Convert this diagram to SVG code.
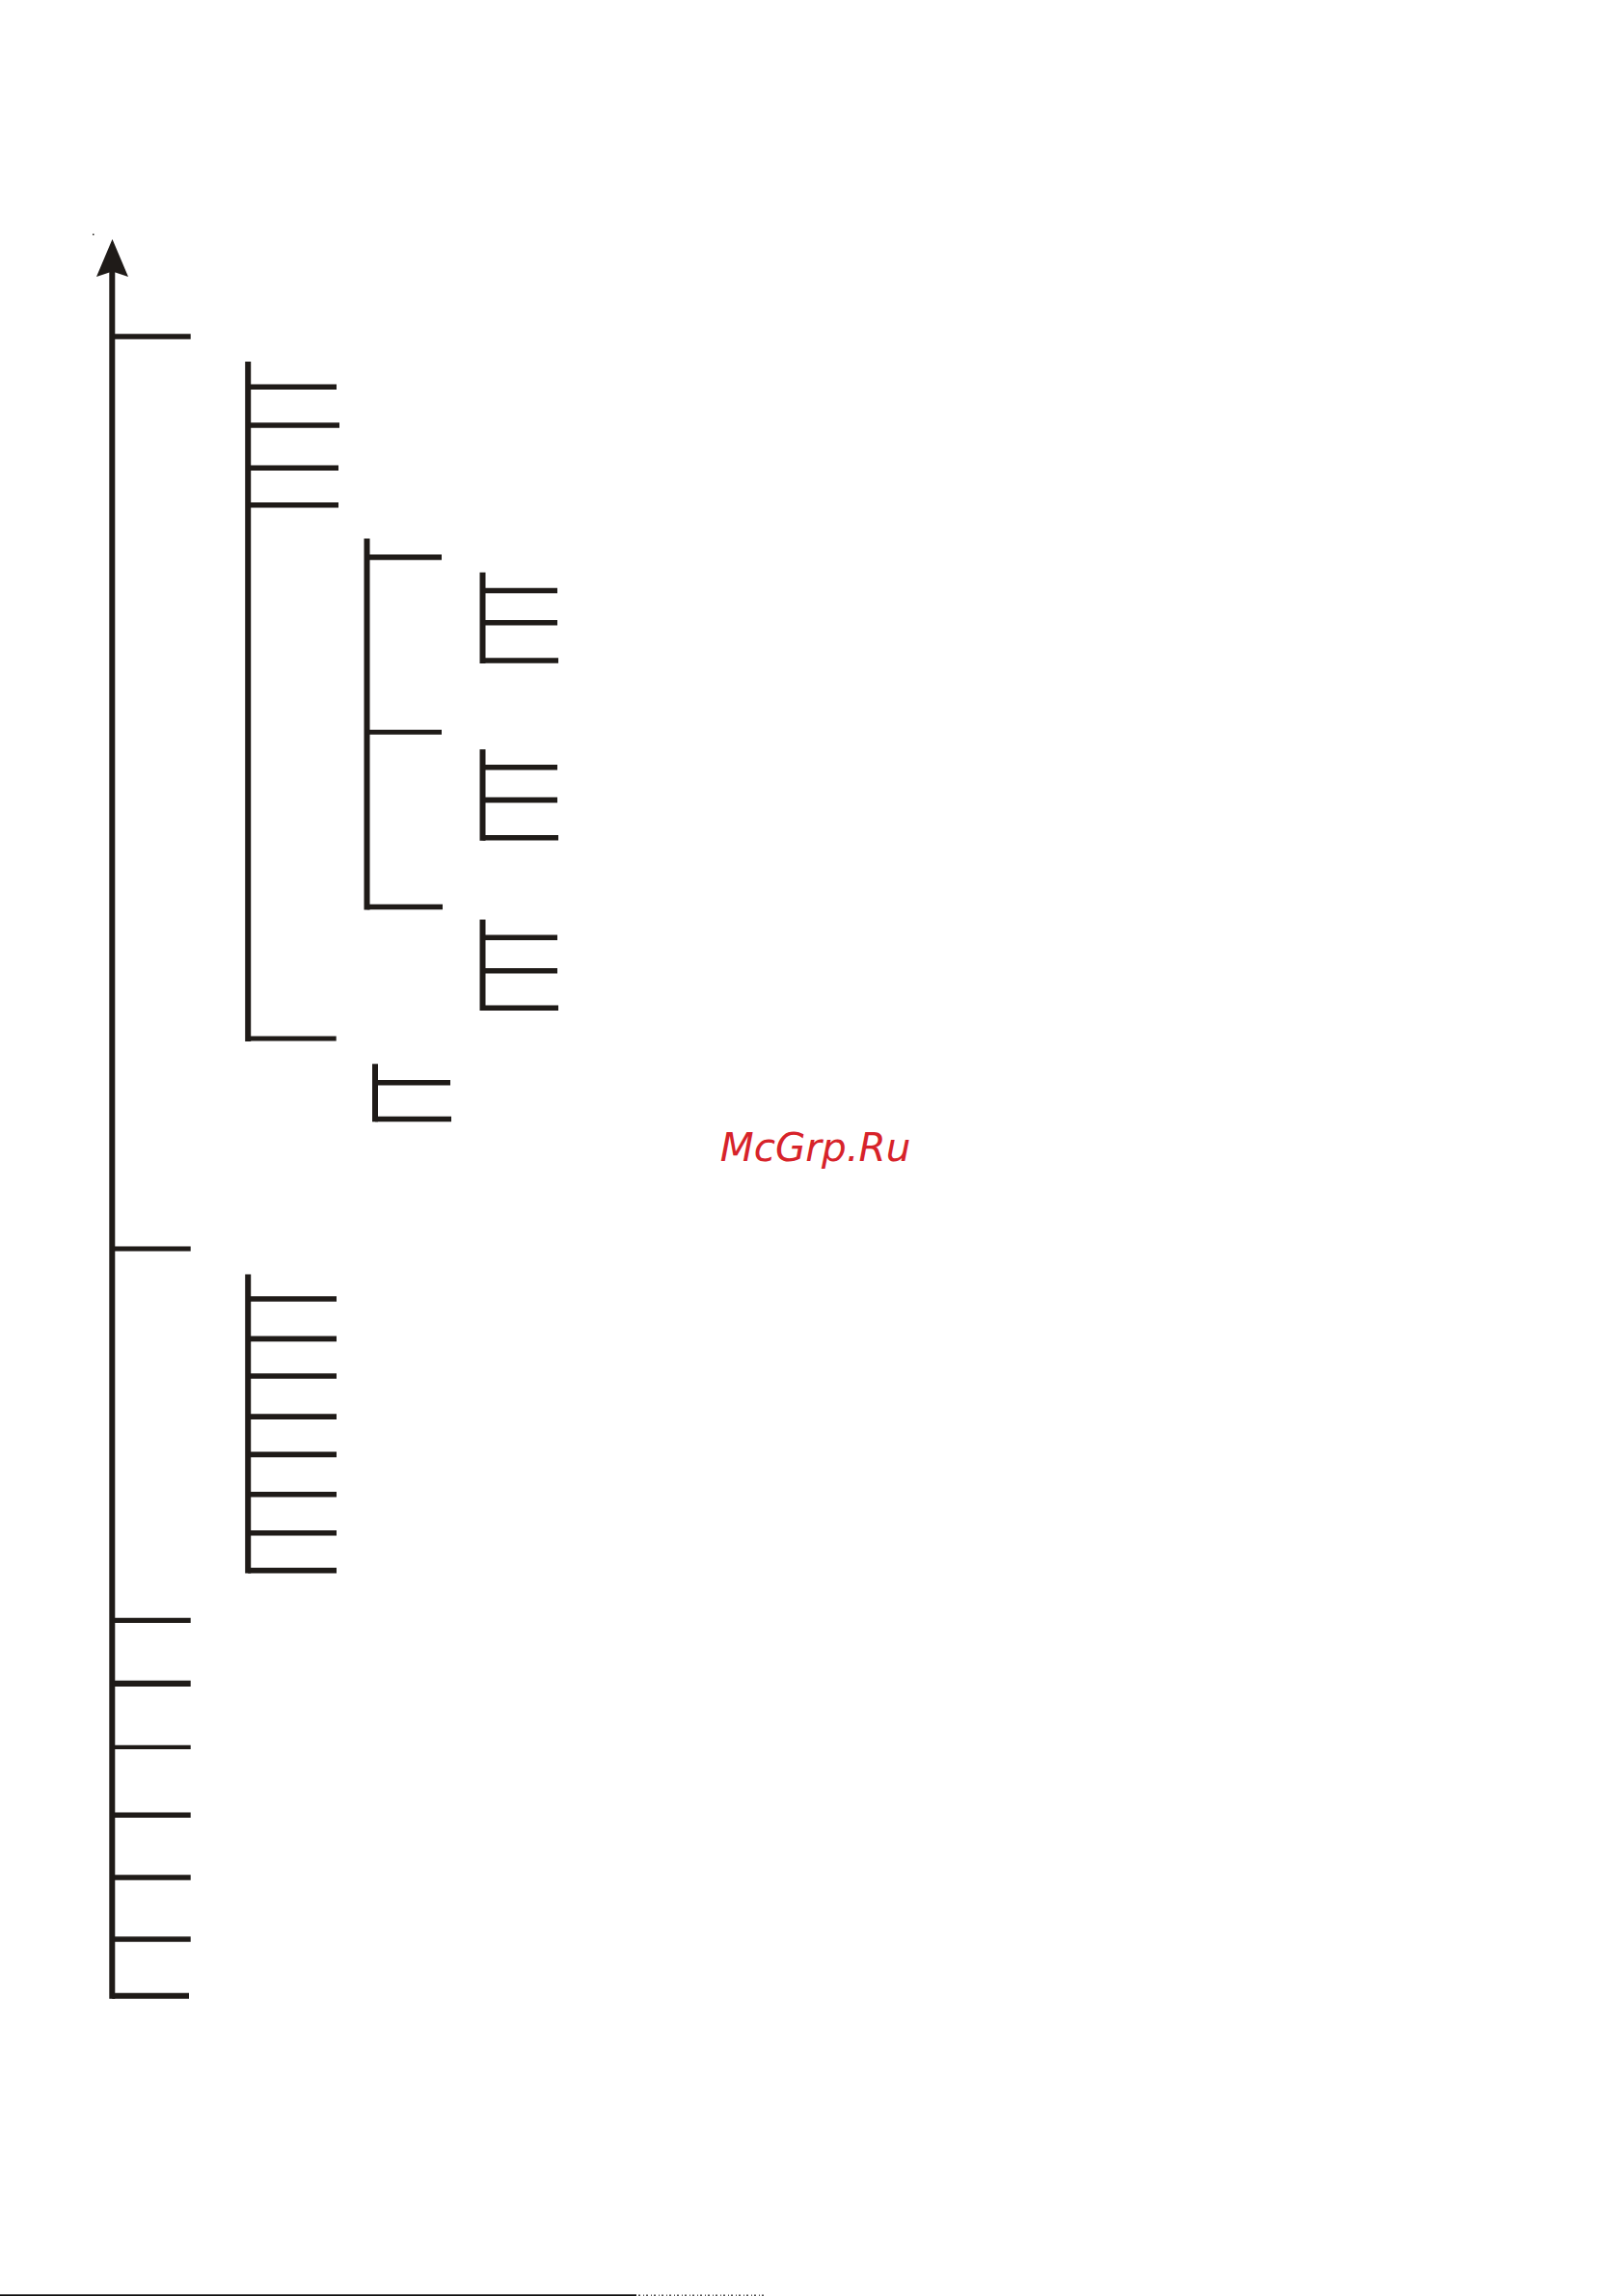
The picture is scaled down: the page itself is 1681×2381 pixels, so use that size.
<svg xmlns="http://www.w3.org/2000/svg" width="1681" height="2381" viewBox="0 0 1681 2381">
<style>
.ln{stroke:#1f1b18;stroke-width:5.6;fill:none;stroke-linecap:butt}
.v{stroke:#1f1b18;stroke-width:6;fill:none;stroke-linecap:butt}
.wm{font-family:"DejaVu Sans","Liberation Sans",sans-serif;font-style:italic;font-size:40.5px;fill:#d7232a}
</style>
<rect x="0" y="0" width="1681" height="2381" fill="#ffffff"/>
<g id="axis">
<rect x="96" y="242.5" width="1.5" height="1.5" fill="#1f1b18"/>
<polygon points="116.5,248 100,287 116.5,281.5 133,287" fill="#1f1b18"/>
<line class="v" x1="116.3" y1="280" x2="116.3" y2="2072.7"/>
<line class="ln" x1="116.3" y1="349" x2="197.7" y2="349"/>
<line class="ln" x1="116.3" y1="1295" x2="197.7" y2="1295" style="stroke-width:5.2"/>
<line class="ln" x1="116.3" y1="1680.3" x2="197.7" y2="1680.3" style="stroke-width:5.3"/>
<line class="ln" x1="116.3" y1="1745.8" x2="197.7" y2="1745.8" style="stroke-width:6.3"/>
<line class="ln" x1="116.3" y1="1811.8" x2="197.7" y2="1811.8" style="stroke-width:4.3"/>
<line class="ln" x1="116.3" y1="1882.3" x2="197.7" y2="1882.3"/>
<line class="ln" x1="116.3" y1="1947" x2="197.7" y2="1947"/>
<line class="ln" x1="116.3" y1="2011" x2="197.7" y2="2011"/>
<line class="ln" x1="116.3" y1="2069.7" x2="196" y2="2069.7" style="stroke-width:6"/>
</g>
<g id="bracket-1">
<line class="v" x1="257.2" y1="375" x2="257.2" y2="1080"/>
<line class="ln" x1="257.2" y1="401.2" x2="349" y2="401.2"/>
<line class="ln" x1="257.2" y1="441" x2="352" y2="441"/>
<line class="ln" x1="257.2" y1="485.2" x2="351" y2="485.2"/>
<line class="ln" x1="257.2" y1="523.8" x2="351" y2="523.8"/>
<line class="ln" x1="257.2" y1="1077" x2="348.7" y2="1077" style="stroke-width:5"/>
</g>
<g id="bracket-1-1">
<line class="v" x1="380.5" y1="558.6" x2="380.5" y2="943.5"/>
<line class="ln" x1="380.5" y1="577.9" x2="458" y2="577.9"/>
<line class="ln" x1="380.5" y1="759.3" x2="458" y2="759.3" style="stroke-width:5"/>
<line class="ln" x1="380.5" y1="940.5" x2="459" y2="940.5"/>
</g>
<g id="group-a">
<line class="v" x1="500.5" y1="593.6" x2="500.5" y2="688"/>
<line class="ln" x1="500.5" y1="612.5" x2="578" y2="612.5"/>
<line class="ln" x1="500.5" y1="645.7" x2="578" y2="645.7"/>
<line class="ln" x1="500.5" y1="685" x2="579" y2="685"/>
</g>
<g id="group-b">
<line class="v" x1="500.5" y1="777.1" x2="500.5" y2="871.8"/>
<line class="ln" x1="500.5" y1="795.7" x2="578" y2="795.7"/>
<line class="ln" x1="500.5" y1="829.6" x2="578" y2="829.6"/>
<line class="ln" x1="500.5" y1="868.8" x2="579" y2="868.8"/>
</g>
<g id="group-c">
<line class="v" x1="500.5" y1="953.6" x2="500.5" y2="1048"/>
<line class="ln" x1="500.5" y1="972.3" x2="578" y2="972.3"/>
<line class="ln" x1="500.5" y1="1006.8" x2="578" y2="1006.8"/>
<line class="ln" x1="500.5" y1="1045.2" x2="579" y2="1045.2"/>
</g>
<g id="group-small">
<line class="v" x1="389" y1="1103.3" x2="389" y2="1163.3"/>
<line class="ln" x1="389" y1="1122.8" x2="467" y2="1122.8"/>
<line class="ln" x1="389" y1="1160.5" x2="468" y2="1160.5"/>
</g>
<g id="bracket-2">
<line class="v" x1="257.2" y1="1321.4" x2="257.2" y2="1631.5"/>
<line class="ln" x1="257.2" y1="1347" x2="349" y2="1347"/>
<line class="ln" x1="257.2" y1="1388.4" x2="349" y2="1388.4"/>
<line class="ln" x1="257.2" y1="1427" x2="349" y2="1427"/>
<line class="ln" x1="257.2" y1="1469.1" x2="349" y2="1469.1"/>
<line class="ln" x1="257.2" y1="1508.4" x2="349" y2="1508.4"/>
<line class="ln" x1="257.2" y1="1549.8" x2="349" y2="1549.8"/>
<line class="ln" x1="257.2" y1="1589.8" x2="349" y2="1589.8"/>
<line class="ln" x1="257.2" y1="1628.6" x2="349" y2="1628.6"/>
</g>
<g id="connectors"></g>
<g id="watermark">
<text class="wm" x="746.7" y="1204.3">McGrp.Ru</text>
</g>
<g id="edge">
<rect x="0" y="2379.3" width="660" height="1.7" fill="#111"/>
<line x1="662" y1="2380.2" x2="793" y2="2380.2" stroke="#555" stroke-width="1.4" stroke-dasharray="2,3,1,2"/>
</g>
</svg>
